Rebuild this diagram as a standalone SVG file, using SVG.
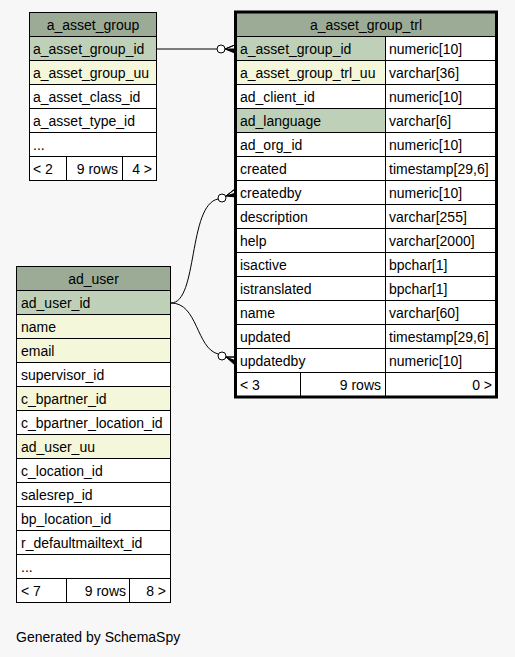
<svg xmlns="http://www.w3.org/2000/svg" width="515" height="657" viewBox="0 0 515 657">
<style>
text{font-family:"Liberation Sans",Arial,sans-serif;font-size:14px;fill:#000}
.c{text-anchor:middle}
.r{text-anchor:end}
rect{stroke:#000;stroke-width:1}
.bg{fill:#f7f7f7;stroke:none}
.thick{fill:none;stroke:#000;stroke-width:3}
.h{fill:#9bab96}
.pk{fill:#bed1b8}
.ix{fill:#f4f7da}
.w{fill:#fff}
.e{fill:none;stroke:#000;stroke-width:1}
.ci{fill:#fff;stroke:#000;stroke-width:1}
.cr{fill:#000;stroke:#000;stroke-width:1}
</style>
<rect class="bg" x="0" y="0" width="515" height="657"/>

<g id="a_asset_group">
<rect class="h" x="29.5" y="12.5" width="127" height="24"/>
<text class="c" x="93" y="29.5">a_asset_group</text>
<rect class="pk" x="29.5" y="36.5" width="127" height="24"/>
<text x="33" y="53.5">a_asset_group_id</text>
<rect class="ix" x="29.5" y="60.5" width="127" height="24"/>
<text x="33" y="77.5">a_asset_group_uu</text>
<rect class="w" x="29.5" y="84.5" width="127" height="24"/>
<text x="33" y="101.5">a_asset_class_id</text>
<rect class="w" x="29.5" y="108.5" width="127" height="24"/>
<text x="33" y="125.5">a_asset_type_id</text>
<rect class="w" x="29.5" y="132.5" width="127" height="24"/>
<text x="33" y="149.5">...</text>
<rect class="w" x="29.5" y="156.5" width="37" height="24"/>
<rect class="w" x="66.5" y="156.5" width="56" height="24"/>
<rect class="w" x="122.5" y="156.5" width="34" height="24"/>
<text x="33" y="173.5">&lt; 2</text>
<text class="r" x="118" y="173.5">9 rows</text>
<text class="r" x="152" y="173.5">4 &gt;</text>
</g>

<g id="a_asset_group_trl">
<rect class="h" x="235.5" y="12.5" width="261" height="24"/>
<text class="c" x="366" y="29.5">a_asset_group_trl</text>
<rect class="pk" x="235.5" y="36.5" width="150" height="24"/><rect class="w" x="385.5" y="36.5" width="111" height="24"/>
<text x="240" y="53.5">a_asset_group_id</text><text x="389" y="53.5">numeric[10]</text>
<rect class="ix" x="235.5" y="60.5" width="150" height="24"/><rect class="w" x="385.5" y="60.5" width="111" height="24"/>
<text x="240" y="77.5">a_asset_group_trl_uu</text><text x="389" y="77.5">varchar[36]</text>
<rect class="w" x="235.5" y="84.5" width="150" height="24"/><rect class="w" x="385.5" y="84.5" width="111" height="24"/>
<text x="240" y="101.5">ad_client_id</text><text x="389" y="101.5">numeric[10]</text>
<rect class="pk" x="235.5" y="108.5" width="150" height="24"/><rect class="w" x="385.5" y="108.5" width="111" height="24"/>
<text x="240" y="125.5">ad_language</text><text x="389" y="125.5">varchar[6]</text>
<rect class="w" x="235.5" y="132.5" width="150" height="24"/><rect class="w" x="385.5" y="132.5" width="111" height="24"/>
<text x="240" y="149.5">ad_org_id</text><text x="389" y="149.5">numeric[10]</text>
<rect class="w" x="235.5" y="156.5" width="150" height="24"/><rect class="w" x="385.5" y="156.5" width="111" height="24"/>
<text x="240" y="173.5">created</text><text x="389" y="173.5">timestamp[29,6]</text>
<rect class="w" x="235.5" y="180.5" width="150" height="24"/><rect class="w" x="385.5" y="180.5" width="111" height="24"/>
<text x="240" y="197.5">createdby</text><text x="389" y="197.5">numeric[10]</text>
<rect class="w" x="235.5" y="204.5" width="150" height="24"/><rect class="w" x="385.5" y="204.5" width="111" height="24"/>
<text x="240" y="221.5">description</text><text x="389" y="221.5">varchar[255]</text>
<rect class="w" x="235.5" y="228.5" width="150" height="24"/><rect class="w" x="385.5" y="228.5" width="111" height="24"/>
<text x="240" y="245.5">help</text><text x="389" y="245.5">varchar[2000]</text>
<rect class="w" x="235.5" y="252.5" width="150" height="24"/><rect class="w" x="385.5" y="252.5" width="111" height="24"/>
<text x="240" y="269.5">isactive</text><text x="389" y="269.5">bpchar[1]</text>
<rect class="w" x="235.5" y="276.5" width="150" height="24"/><rect class="w" x="385.5" y="276.5" width="111" height="24"/>
<text x="240" y="293.5">istranslated</text><text x="389" y="293.5">bpchar[1]</text>
<rect class="w" x="235.5" y="300.5" width="150" height="24"/><rect class="w" x="385.5" y="300.5" width="111" height="24"/>
<text x="240" y="317.5">name</text><text x="389" y="317.5">varchar[60]</text>
<rect class="w" x="235.5" y="324.5" width="150" height="24"/><rect class="w" x="385.5" y="324.5" width="111" height="24"/>
<text x="240" y="341.5">updated</text><text x="389" y="341.5">timestamp[29,6]</text>
<rect class="w" x="235.5" y="348.5" width="150" height="24"/><rect class="w" x="385.5" y="348.5" width="111" height="24"/>
<text x="240" y="365.5">updatedby</text><text x="389" y="365.5">numeric[10]</text>
<rect class="w" x="235.5" y="372.5" width="65" height="24"/><rect class="w" x="300.5" y="372.5" width="85" height="24"/><rect class="w" x="385.5" y="372.5" width="111" height="24"/>
<text x="240" y="389.5">&lt; 3</text>
<text class="r" x="381" y="389.5">9 rows</text>
<text class="r" x="492" y="389.5">0 &gt;</text>
<rect class="thick" x="235.5" y="12" width="261" height="385"/>
</g>

<g id="ad_user">
<rect class="h" x="16.5" y="266.5" width="154" height="24"/>
<text class="c" x="93.5" y="283.5">ad_user</text>
<rect class="pk" x="16.5" y="290.5" width="154" height="24"/>
<text x="21" y="307.5">ad_user_id</text>
<rect class="ix" x="16.5" y="314.5" width="154" height="24"/>
<text x="21" y="331.5">name</text>
<rect class="ix" x="16.5" y="338.5" width="154" height="24"/>
<text x="21" y="355.5">email</text>
<rect class="w" x="16.5" y="362.5" width="154" height="24"/>
<text x="21" y="379.5">supervisor_id</text>
<rect class="ix" x="16.5" y="386.5" width="154" height="24"/>
<text x="21" y="403.5">c_bpartner_id</text>
<rect class="w" x="16.5" y="410.5" width="154" height="24"/>
<text x="21" y="427.5">c_bpartner_location_id</text>
<rect class="ix" x="16.5" y="434.5" width="154" height="24"/>
<text x="21" y="451.5">ad_user_uu</text>
<rect class="w" x="16.5" y="458.5" width="154" height="24"/>
<text x="21" y="475.5">c_location_id</text>
<rect class="w" x="16.5" y="482.5" width="154" height="24"/>
<text x="21" y="499.5">salesrep_id</text>
<rect class="w" x="16.5" y="506.5" width="154" height="24"/>
<text x="21" y="523.5">bp_location_id</text>
<rect class="w" x="16.5" y="530.5" width="154" height="24"/>
<text x="21" y="547.5">r_defaultmailtext_id</text>
<rect class="w" x="16.5" y="554.5" width="154" height="24"/>
<text x="21" y="571.5">...</text>
<rect class="w" x="16.5" y="578.5" width="50" height="24"/>
<rect class="w" x="66.5" y="578.5" width="63" height="24"/>
<rect class="w" x="129.5" y="578.5" width="41" height="24"/>
<text x="21" y="595.5">&lt; 7</text>
<text class="r" x="126" y="595.5">9 rows</text>
<text class="r" x="166" y="595.5">8 &gt;</text>
</g>

<g id="connectors">
<path class="e" d="M157,49 L217,49"/>
<circle class="ci" cx="221" cy="49" r="4"/>
<path class="cr" d="M236,44.5 L225,49 L236,53.5 L236,49 L225,49 Z"/>

<path class="e" d="M171,303 C198,303 188,205 218,199"/>
<circle class="ci" cx="222" cy="198" r="4"/>
<path class="cr" d="M235,189 L226,196 L236,197 L236,193 L226,196 Z"/>

<path class="e" d="M171,303 C198,303 196,348 218,354"/>
<circle class="ci" cx="222" cy="356" r="4"/>
<path class="cr" d="M236,357 L226,357 L235,365 L236,361 L226,357 Z"/>
</g>

<text x="16" y="642">Generated by SchemaSpy</text>
</svg>
